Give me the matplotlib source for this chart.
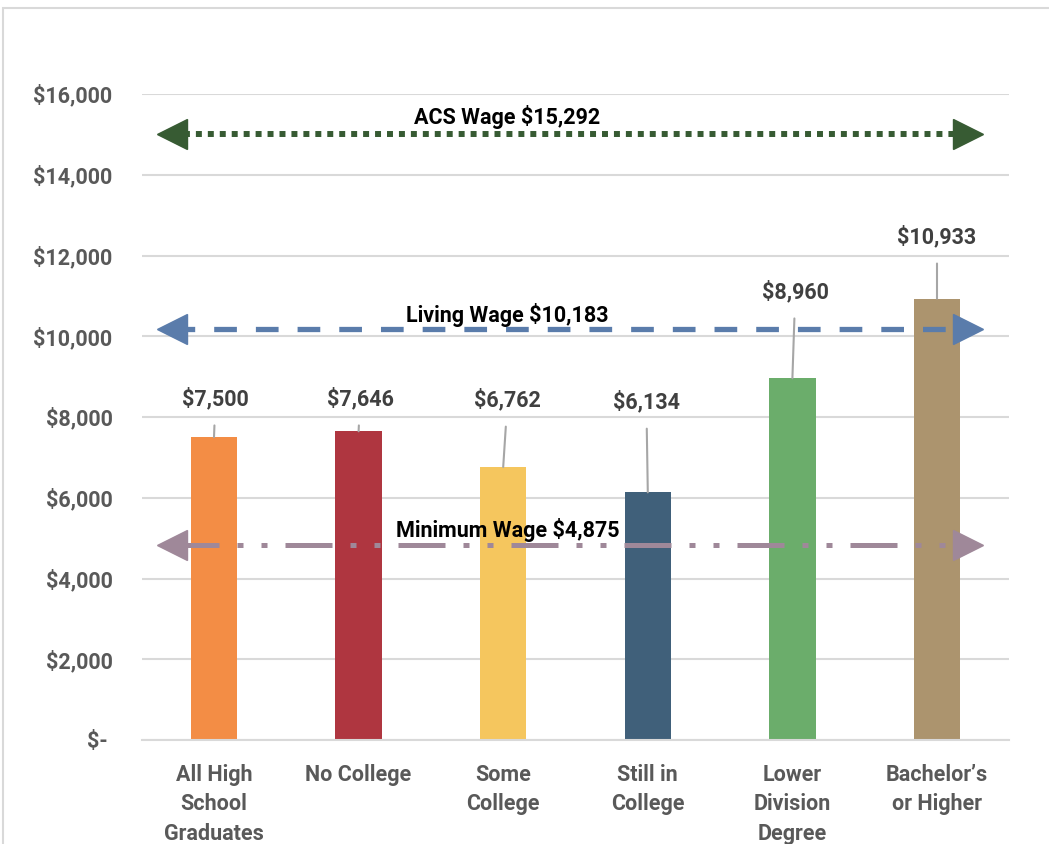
import matplotlib.pyplot as plt
from matplotlib.patches import Rectangle

# data
categories = ["All High\nSchool\nGraduates", "No College", "Some\nCollege",
              "Still in\nCollege", "Lower\nDivision\nDegree", "Bachelor\u2019s\nor Higher"]
earnings = [7500, 7646, 6762, 6134, 8960, 10933]
bar_colors = ["#F38D45", "#AF3640", "#F5C65E", "#40607A", "#6BAD6B", "#AC946E"]

wage_names = ["ACS Wage", "Living Wage", "Minimum Wage"]
wage_values = [15292, 10183, 4875]
wage_line_y = [15000, 10183, 4830]

yticks = [0, 2000, 4000, 6000, 8000, 10000, 12000, 14000, 16000]

# label placement (layout only)
label_y = [8450, 8450, 8420, 8370, 11100, 12460]
label_dx = [0.01, 0.01, 0.03, -0.01, 0.02, 0.0]

plt.rcParams['font.family'] = ['Roboto', 'DejaVu Sans']
FS = 15.5
fig = plt.figure(figsize=(10.49, 8.44), dpi=100)
W, H = 1049, 844
ax = fig.add_axes([141.7 / W, 1 - 740 / H, (1009.3 - 141.7) / W, (740 - 94) / H])

fig.patches.append(Rectangle((3 / W, -0.1), 1.2, 1 - 8 / H + 0.1, transform=fig.transFigure,
                             fill=False, edgecolor="#D9D9D9", linewidth=1.5, zorder=0))

x = list(range(len(categories)))
ax.bar(x, earnings, width=0.32, color=bar_colors, zorder=2)

ax.set_xlim(-0.5, len(categories) - 0.5)
ax.set_ylim(0, 16000)
ax.set_yticks(yticks)
ax.set_yticklabels(["$- " if v == 0 else "${:,}".format(v) for v in yticks])
ax.set_xticks(x)
ax.set_xticklabels(categories, linespacing=1.45)
for lab in ax.get_yticklabels() + ax.get_xticklabels():
    lab.set_fontweight("bold")
    lab.set_color("#595959")
    lab.set_fontsize(FS)
ax.tick_params(axis="y", length=0, pad=21)
ax.tick_params(axis="x", length=0, pad=17)
ax.yaxis.grid(True, color="#D9D9D9", linewidth=1.5, zorder=0)
ax.set_axisbelow(True)
for s in ["top", "right", "left"]:
    ax.spines[s].set_visible(False)
ax.spines["bottom"].set_color("#D9D9D9")
ax.spines["bottom"].set_linewidth(1.5)

# data labels with leader lines
for i, v in enumerate(earnings):
    ax.annotate("${:,}".format(v), xy=(i, v), xytext=(i + label_dx[i], label_y[i]),
                ha="center", va="center", fontsize=FS, fontweight="bold", color="#404040",
                arrowprops=dict(arrowstyle="-", color="#A6A6A6", linewidth=1.5,
                                shrinkA=9, shrinkB=0), zorder=4)

# wage reference arrows
wage_colors = ["#375B33", "#5A7CAB", "#9F8899"]
wage_styles = [(0, (1, 1)), (0, (4.3, 3.6)), (0, (9.4, 3.6, 1.2, 3.6, 1.2, 3.6))]
wage_lw = [4.3, 3.8, 3.6]
wage_text_y = [15440, 10530, 5210]
x_left, x_right = -0.287, 5.211
for name, val, ly, c, ls, lw, ty in zip(wage_names, wage_values, wage_line_y, wage_colors,
                                         wage_styles, wage_lw, wage_text_y):
    ax.plot([x_left, x_right], [ly, ly], color=c, linestyle=ls, linewidth=lw,
            dash_capstyle="butt", zorder=3)
    ax.plot([x_left], [ly], marker="<", markersize=21, color=c, zorder=3)
    ax.plot([x_right], [ly], marker=">", markersize=21, color=c, zorder=3)
    ax.text(2.03, ty, "{} ${:,}".format(name, val), ha="center", va="center",
            fontsize=FS, fontweight="bold", color="black", zorder=5)

fig.savefig("out.png", dpi=100)
